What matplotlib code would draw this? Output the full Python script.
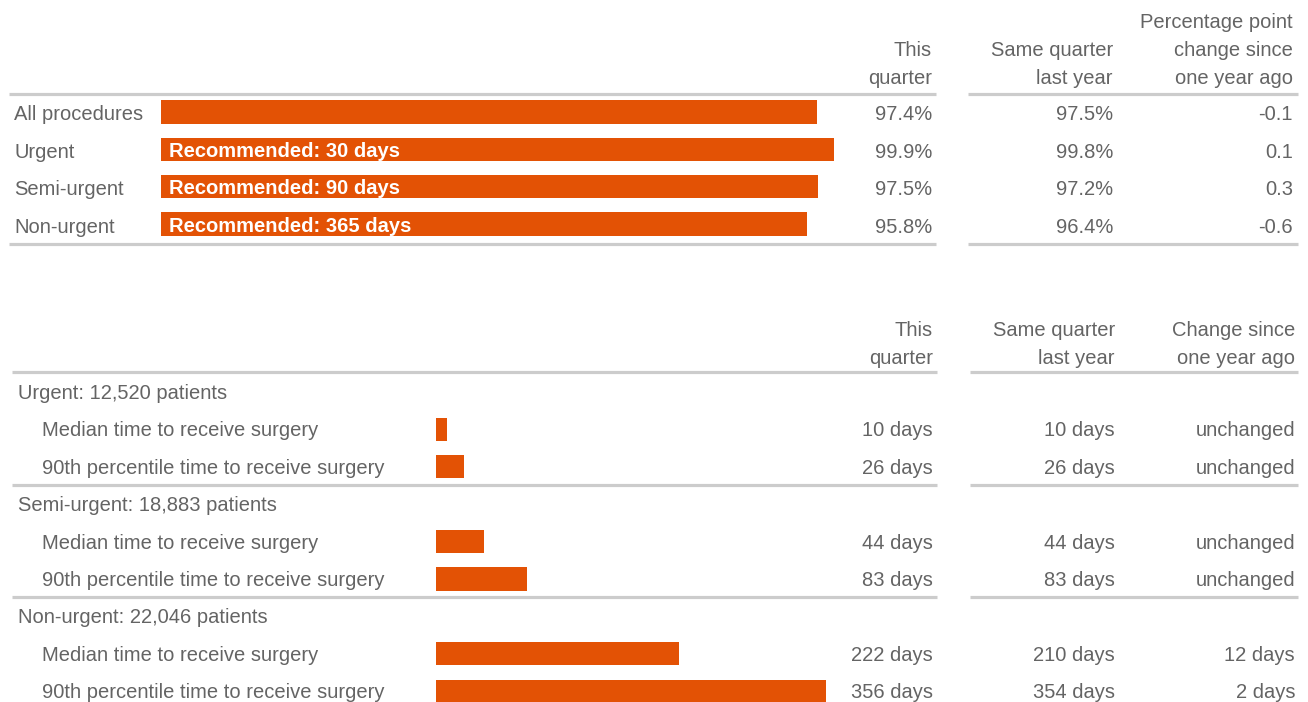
import matplotlib
matplotlib.use('Agg')
import matplotlib.pyplot as plt
import matplotlib.transforms as mtransforms
from matplotlib.lines import Line2D

# top table: share of patients who received surgery on time
top_labels = ['All procedures', 'Urgent', 'Semi-urgent', 'Non-urgent']
top_this = [97.4, 99.9, 97.5, 95.8]
top_last = [97.5, 99.8, 97.2, 96.4]
top_change = [-0.1, 0.1, 0.3, -0.6]
top_bar_text = ['', 'Recommended: 30 days', 'Recommended: 90 days', 'Recommended: 365 days']

# bottom table: waiting times in days
groups = ['Urgent: 12,520 patients', 'Semi-urgent: 18,883 patients', 'Non-urgent: 22,046 patients']
measures = ['Median time to receive surgery', '90th percentile time to receive surgery']
this_days = [10, 26, 44, 83, 222, 356]
last_days = [10, 26, 44, 83, 210, 354]

W, H = 1308, 702
ORANGE = '#e35205'
TEXT = '#646464'
RULE = '#cccccc'

plt.rcParams['font.family'] = ['Liberation Sans', 'DejaVu Sans']
FS = 14.5

fig = plt.figure(figsize=(W / 100, H / 100), dpi=100)
px = mtransforms.Affine2D().scale(1 / W, 1 / H) + fig.transFigure


def fy(y):
    return H - y


def rule(x0, x1, y):
    fig.add_artist(Line2D([x0, x1], [fy(y), fy(y)], transform=px, color=RULE, lw=2.3,
                          solid_capstyle='butt'))


def add_axes_px(left, top, width, height):
    ax = fig.add_axes([left / W, (H - top - height) / H, width / W, height / H])
    ax.set_axis_off()
    return ax


def header(x, lines, last_y):
    for i, s in enumerate(lines):
        y = last_y - (len(lines) - 1 - i) * 28
        fig.text(x, fy(y), s, transform=px, color=TEXT, fontsize=FS,
                 ha='right', va='center_baseline')


# ---------------- top table ----------------
ax1 = add_axes_px(161, 93.3, 674, 149.4)
ypos = list(range(len(top_labels)))
ax1.barh(ypos, top_this, height=0.62, color=ORANGE)
ax1.set_xlim(0, 100)
ax1.set_ylim(len(top_labels) - 0.5, -0.5)
for y, t in zip(ypos, top_bar_text):
    if t:
        ax1.text(1.2, y, t, color='white', fontsize=FS, fontweight='bold',
                 va='center_baseline', ha='left')

tr1 = mtransforms.blended_transform_factory(px, ax1.transData) + mtransforms.Affine2D().translate(0, -1)
for y, lab, a, b, c in zip(ypos, top_labels, top_this, top_last, top_change):
    ax1.text(14, y, lab, transform=tr1, color=TEXT, fontsize=FS, va='center_baseline', ha='left')
    ax1.text(932, y, f'{a:.1f}%', transform=tr1, color=TEXT, fontsize=FS, va='center_baseline', ha='right')
    ax1.text(1113, y, f'{b:.1f}%', transform=tr1, color=TEXT, fontsize=FS, va='center_baseline', ha='right')
    ax1.text(1293, y, f'{c:.1f}', transform=tr1, color=TEXT, fontsize=FS, va='center_baseline', ha='right')

header(932, ['This', 'quarter'], 77)
header(1113, ['Same quarter', 'last year'], 77)
header(1293, ['Percentage point', 'change since', 'one year ago'], 77)

rule(9, 936, 94)
rule(968, 1298, 94)
rule(9, 936, 244)
rule(968, 1298, 244)

# ---------------- bottom table ----------------
slot = 37.4
ax2 = add_axes_px(436, 392 - slot / 2, 400 * 1.0955, 9 * slot)
ax2.set_xlim(0, 400)
ax2.set_ylim(8.5, -0.5)
tr2 = mtransforms.blended_transform_factory(px, ax2.transData) + mtransforms.Affine2D().translate(0, 0.5)

rows = []
for g, name in enumerate(groups):
    gy = g * 3
    ax2.text(18, gy, name, transform=tr2, color=TEXT, fontsize=FS, va='center_baseline', ha='left')
    for m, meas in enumerate(measures):
        rows.append((gy + 1 + m, meas))

bar_y = [r[0] for r in rows]
ax2.barh(bar_y, this_days, height=0.615, color=ORANGE)
for (y, meas), a, b in zip(rows, this_days, last_days):
    d = a - b
    ch = 'unchanged' if d == 0 else f'{d} days'
    ax2.text(42, y, meas, transform=tr2, color=TEXT, fontsize=FS, va='center_baseline', ha='left')
    ax2.text(933, y, f'{a} days', transform=tr2, color=TEXT, fontsize=FS, va='center_baseline', ha='right')
    ax2.text(1115, y, f'{b} days', transform=tr2, color=TEXT, fontsize=FS, va='center_baseline', ha='right')
    ax2.text(1295, y, ch, transform=tr2, color=TEXT, fontsize=FS, va='center_baseline', ha='right')

header(933, ['This', 'quarter'], 357)
header(1115, ['Same quarter', 'last year'], 357)
header(1295, ['Change since', 'one year ago'], 357)

rule(12, 937, 372)
rule(970, 1298, 372)
for y in (485, 597):
    rule(12, 937, y)
    rule(970, 1298, y)

fig.savefig('out.png', dpi=100)
